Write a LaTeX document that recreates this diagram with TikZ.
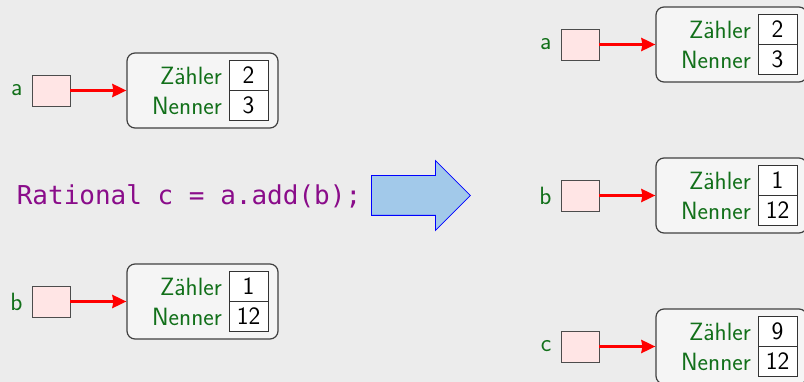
\documentclass[tikz,border=0pt]{standalone}
\usepackage{fontspec}
\setmonofont{DejaVu Sans Mono}
\usetikzlibrary{positioning,shapes.arrows,arrows.meta}
\definecolor{bgGray}{HTML}{ECECEC}
\definecolor{varGreen}{HTML}{12701A}
\definecolor{codeViolet}{HTML}{8A0C8A}
\definecolor{stepBlue}{HTML}{A2C9EA}

\begin{document}
\begin{tikzpicture}[x=1pt,y=-1pt]
\tikzstyle{refStyle}=[draw=black!70, fill=red!10, minimum width=38pt, minimum height=31pt, inner sep=0pt, line width=0.9pt]
\tikzstyle{objStyle}=[draw=black!75, fill=black!4, rounded corners=8pt, minimum width=151pt, minimum height=75pt, inner sep=0pt, line width=1.2pt]
\tikzstyle{cellStyle}=[draw=black!80, fill=white, minimum width=39pt, minimum height=30pt, inner sep=0pt, line width=0.9pt, font=\fontsize{25}{27}\selectfont\sffamily]
\tikzstyle{fieldStyle}=[anchor=east, inner sep=0pt, text=varGreen, font=\fontsize{25}{27}\selectfont\sffamily]
\tikzstyle{varStyle}=[inner sep=0pt, text=varGreen, font=\fontsize{25}{27}\selectfont\sffamily]
\tikzstyle{pointerStyle}=[red, line width=3pt, -{Stealth[length=14pt,width=13pt,inset=1pt]}]
\useasboundingbox (0,0) rectangle (804,382);
\fill[bgGray] (0,0) rectangle (804,382);
% before
\node[refStyle] (aRef) at (51,90.5) {};
\node[varStyle, left=9pt of aRef] (aName) {a};
\node[objStyle] (aObj) at (202.5,90.5) {};
\node[cellStyle] (aNum) at (248.5,75.5) {2};
\node[cellStyle] (aDen) at (248.5,105.5) {3};
\node[fieldStyle] (aNumName) at (222,75.5) {Zähler};
\node[fieldStyle] (aDenName) at (222,105.5) {Nenner};
\draw[pointerStyle] (aRef) -- (aObj);
\node[refStyle] (bRef) at (51,301.5) {};
\node[varStyle, left=9pt of bRef] (bName) {b};
\node[objStyle] (bObj) at (202.5,301.5) {};
\node[cellStyle] (bNum) at (248.5,286.5) {1};
\node[cellStyle] (bDen) at (248.5,316.5) {12};
\node[fieldStyle] (bNumName) at (222,286.5) {Zähler};
\node[fieldStyle] (bDenName) at (222,316.5) {Nenner};
\draw[pointerStyle] (bRef) -- (bObj);
% statement
\node[inner sep=0pt, text=codeViolet, font=\fontsize{26}{28}\selectfont\ttfamily] (code) at (189,196) {Rational c = a.add(b);};
\node[single arrow, draw=blue, fill=stepBlue, line width=0.8pt, minimum height=99pt, single arrow head extend=15pt, inner xsep=0pt, inner ysep=19.5pt, anchor=tail] (doArrow) at (371,195.5) {};
% after
\node[refStyle] (aRefR) at (580,44.5) {};
\node[varStyle, left=9pt of aRefR] (aNameR) {a};
\node[objStyle] (aObjR) at (731.5,44.5) {};
\node[cellStyle] (aNumR) at (777.5,29.5) {2};
\node[cellStyle] (aDenR) at (777.5,59.5) {3};
\node[fieldStyle] (aNumNameR) at (751,29.5) {Zähler};
\node[fieldStyle] (aDenNameR) at (751,59.5) {Nenner};
\draw[pointerStyle] (aRefR) -- (aObjR);
\node[refStyle] (bRefR) at (580,195.5) {};
\node[varStyle, left=9pt of bRefR] (bNameR) {b};
\node[objStyle] (bObjR) at (731.5,195.5) {};
\node[cellStyle] (bNumR) at (777.5,180.5) {1};
\node[cellStyle] (bDenR) at (777.5,210.5) {12};
\node[fieldStyle] (bNumNameR) at (751,180.5) {Zähler};
\node[fieldStyle] (bDenNameR) at (751,210.5) {Nenner};
\draw[pointerStyle] (bRefR) -- (bObjR);
\node[refStyle] (cRefR) at (580,346.5) {};
\node[varStyle, left=9pt of cRefR] (cNameR) {c};
\node[objStyle] (cObjR) at (731.5,346.5) {};
\node[cellStyle] (cNumR) at (777.5,331.5) {9};
\node[cellStyle] (cDenR) at (777.5,361.5) {12};
\node[fieldStyle] (cNumNameR) at (751,331.5) {Zähler};
\node[fieldStyle] (cDenNameR) at (751,361.5) {Nenner};
\draw[pointerStyle] (cRefR) -- (cObjR);
\end{tikzpicture}
\end{document}
